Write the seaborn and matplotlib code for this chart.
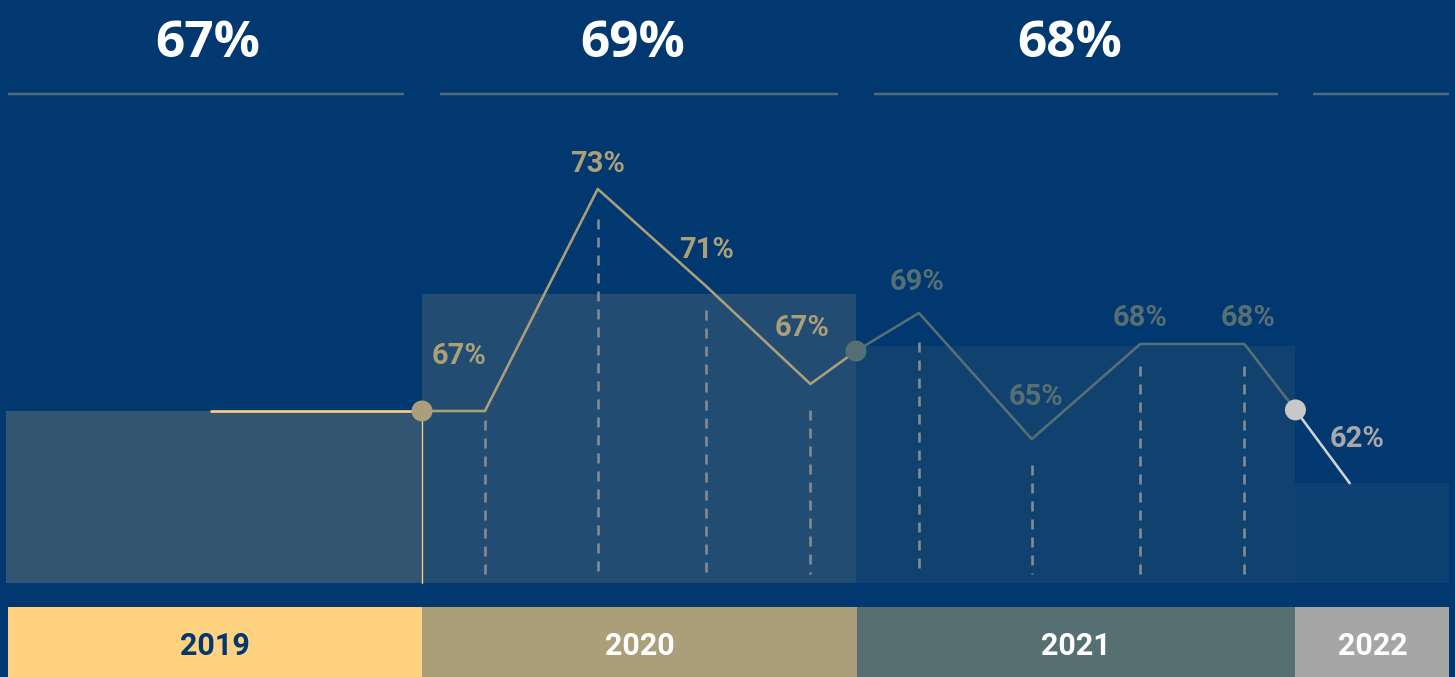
import matplotlib
matplotlib.use('Agg')
import matplotlib.pyplot as plt
import seaborn as sns
import pandas as pd

# ---------------- data ----------------
years = ['2019', '2020', '2021', '2022']
year_avg_labels = ['67%', '69%', '68%']              # headline yearly averages
year_bar_levels = [67.0, 70.15, 68.75, 65.05]        # yearly bar heights as drawn
q2020_labels = ['67%', '73%', '71%', '67%']
q2020_levels = [67.0, 73.0, 70.37, 67.73]
q2021_labels = ['69%', '65%', '68%', '68%']
q2021_levels = [69.65, 66.24, 68.81, 68.81]
q2022_label = '62%'
q2022_level = 65.05
boundary_levels = [67.0, 68.62, 67.03]               # junction points at start of 2020/2021/2022

# ---------------- layout / style ----------------
BG = '#00386F'
year_colors = ['#FFD27F', '#AB9F7A', '#566F73', '#A6A6A6']
bar_alpha = [0.2, 0.2, 0.2, 0.08]
year_edges = [-3.83, 0.0, 4.0, 8.05, 9.47]
q_offsets = [0.58, 1.62, 2.62, 3.58]
BASE = 62.35
PX_X = 108.5   # px per x unit
PX_Y = 37.0    # px per y unit

sns.set_theme(style='white')
plt.rcParams['font.family'] = ['Roboto', 'DejaVu Sans']
plt.rcParams['lines.scale_dashes'] = False

fig = plt.figure(figsize=(14.55, 6.77), dpi=100, facecolor=BG)
ax = fig.add_axes([0, 0, 1, 1])
ax.set_facecolor(BG)
ax.set_xlim(-422 / PX_X, (1455 - 422) / PX_X)
ax.set_ylim(67 + (411 - 677) / PX_Y, 67 + 411 / PX_Y)
ax.axis('off')

def pt(px):
    return px * 0.72

# yearly bars
for i in range(4):
    l, r = year_edges[i], year_edges[i + 1]
    ax.bar(l, year_bar_levels[i] - BASE, width=r - l, bottom=BASE, align='edge',
           color=year_colors[i], alpha=bar_alpha[i], linewidth=0, zorder=1)

# bottom year band
band_top = 67 + (411 - 607) / PX_Y
band_bot = 59.0
band_edges = [-3.82, 0.0, 4.01, 8.05, 9.47]
for i, y in enumerate(years):
    l, r = band_edges[i], band_edges[i + 1]
    ax.bar(l, band_top - band_bot, width=r - l, bottom=band_bot, align='edge',
           color=year_colors[i], linewidth=0, zorder=1)
    ax.text((l + r) / 2, 67 + (411 - 655) / PX_Y, y, ha='center', va='baseline',
            fontsize=22, fontweight='bold', family=['Roboto', 'DejaVu Sans'],
            color=BG if i == 0 else 'white', zorder=5)

# top headline labels and underlines
top_base = 67 + (411 - 57) / PX_Y
line_y = 67 + (411 - 94) / PX_Y
inset = 0.165
for i in range(4):
    l, r = year_edges[i], year_edges[i + 1]
    l2 = l + (inset if i > 0 else 0.01)
    r2 = r - (inset if i < 3 else 0.0)
    ax.plot([l2, r2], [line_y, line_y], color='#4F6A7B', lw=pt(2.5),
            solid_capstyle='butt', zorder=2)
for i, lab in enumerate(year_avg_labels):
    c = (year_edges[i] + year_edges[i + 1]) / 2 - 0.06
    ax.text(c, top_base, lab, ha='center', va='baseline', fontsize=37,
            fontweight='bold', family=['Open Sans', 'DejaVu Sans'], color='white', zorder=5)

# quarter positions
qx2020 = [year_edges[1] + o for o in q_offsets]
qx2021 = [year_edges[2] + o for o in q_offsets]
qx2022 = year_edges[3] + 0.5

# dashed drop lines
dash_gap_px_2020 = [9, 30, 24, 26]
dash_gap_px_2021 = [29, 26, 22, 22]
dash_bottom = 67 + (411 - 574) / PX_Y
for xs, lv, gaps in [(qx2020, q2020_levels, dash_gap_px_2020),
                     (qx2021, q2021_levels, dash_gap_px_2021)]:
    for x, y, g in zip(xs, lv, gaps):
        ax.plot([x, x], [y - g / PX_Y, dash_bottom], color='#878B92', lw=pt(2.6),
                linestyle=(0, (pt(10), pt(8))), zorder=2)

# lines
c2019 = (year_edges[0] + year_edges[1]) / 2 - 0.03
seg2019 = pd.DataFrame({'x': [c2019, year_edges[1]], 'y': [year_bar_levels[0], boundary_levels[0]]})
seg2020 = pd.DataFrame({'x': [year_edges[1]] + qx2020 + [year_edges[2]],
                        'y': [boundary_levels[0]] + q2020_levels + [boundary_levels[1]]})
seg2021 = pd.DataFrame({'x': [year_edges[2]] + qx2021 + [year_edges[3]],
                        'y': [boundary_levels[1]] + q2021_levels + [boundary_levels[2]]})
seg2022 = pd.DataFrame({'x': [year_edges[3], qx2022], 'y': [boundary_levels[2], q2022_level]})

line_cols = ['#FFD27F', '#AB9F7A', '#566F73', '#D2D2D2']
for seg, col in zip([seg2019, seg2020, seg2021, seg2022], line_cols):
    sns.lineplot(data=seg, x='x', y='y', sort=False, color=col, lw=pt(2.6),
                 ax=ax, zorder=3, legend=False)

# thin vertical at 2019/2020 boundary
ax.plot([year_edges[1], year_edges[1]], [BASE, boundary_levels[0]], color='#FFD27F',
        lw=pt(1.3), zorder=3)

# junction markers
mk = pd.DataFrame({'x': year_edges[1:4], 'y': boundary_levels,
                   'c': ['#AB9F7A', '#566F73', '#C8C8C8']})
sns.scatterplot(data=mk, x='x', y='y', hue='c', palette={c: c for c in mk['c']},
                s=pt(21) ** 2, linewidth=0, ax=ax, zorder=4, legend=False)

# quarter labels (offsets in px: dx, dy-up to baseline)
off2020 = [(-26, 47), (0, 17), (0, 28), (-8, 48)]
off2021 = [(-2, 23), (4, 34), (0, 18), (4, 18)]
for xs, lv, labs, offs, col in [(qx2020, q2020_levels, q2020_labels, off2020, '#AB9F7A'),
                                (qx2021, q2021_levels, q2021_labels, off2021, '#566F73')]:
    for x, y, lab, (dx, dy) in zip(xs, lv, labs, offs):
        ax.annotate(lab, (x, y), xytext=(pt(dx), pt(dy)), textcoords='offset points',
                    ha='center', va='baseline', fontsize=21, fontweight='bold',
                    color=col, zorder=5)
ax.annotate(q2022_label, (qx2022, q2022_level), xytext=(pt(7), pt(36)),
            textcoords='offset points', ha='center', va='baseline', fontsize=21,
            fontweight='bold', color='#A8A8A8', zorder=5)

fig.savefig('out.png', dpi=100, facecolor=BG)
